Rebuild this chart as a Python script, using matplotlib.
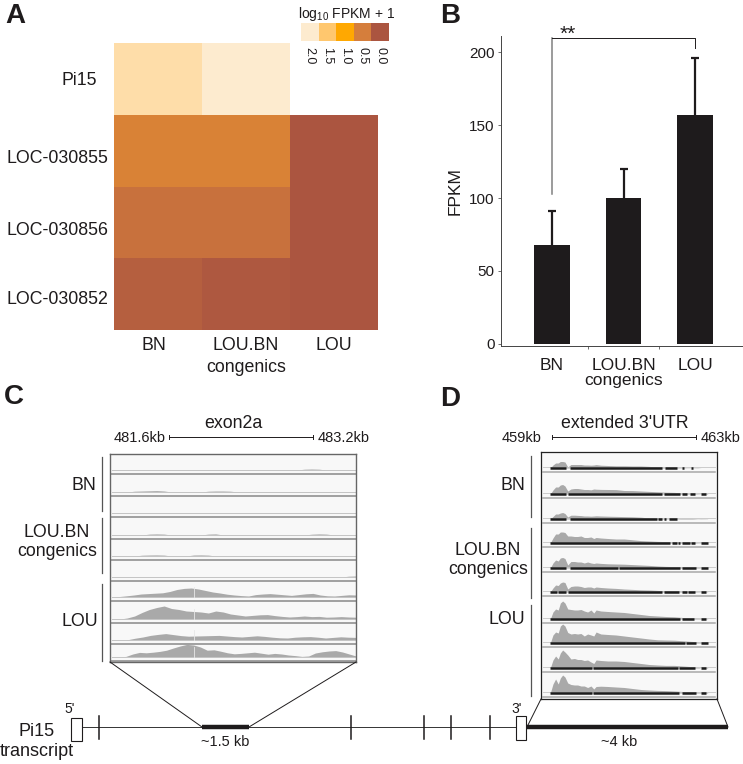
import numpy as np
import matplotlib
matplotlib.use('Agg')
import matplotlib.pyplot as plt
from matplotlib.colors import LinearSegmentedColormap

plt.rcParams['font.family'] = ['Liberation Sans', 'DejaVu Sans']
plt.rcParams['mathtext.default'] = 'regular'
plt.rcParams['mathtext.fontset'] = 'custom'
plt.rcParams['mathtext.rm'] = 'Liberation Sans'

W, H = 743, 764
DARK = '#1e1b1c'

# panel A
genes = ['Pi15', 'LOC-030855', 'LOC-030856', 'LOC-030852']
strains = ['BN', 'LOU.BN\ncongenics', 'LOU']
log_fpkm = [[1.8, 2.0, np.nan],
            [0.55, 0.55, 0.0],
            [0.35, 0.35, 0.0],
            [0.12, 0.04, 0.0]]
legend_ticks = [2.0, 1.5, 1.0, 0.5, 0.0]
legend_colors = ['#ab5540', '#d57e3c', '#ffa800', '#ffc76d', '#fdebcf']

# panel B
fpkm = [68, 100, 157]
fpkm_err = [23, 20, 39]

# panels C and D, coverage per track (px high), left to right
exon_cov = [
    [0, 0, 0, 0, 0, 0, 0, 0, 0, 0, 0, 0, 0, 0, 0, 0, 0, 0, 0, 0, 0, 0, 0, 0, 0, 0, 0.8, 1, 0.8, 0, 0, 0, 0, 0],
    [0, 0, 0, 0.8, 1, 1.2, 1.4, 1, 0, 0, 0, 0, 0, 0.8, 1, 1, 0.8, 0, 0, 0, 0, 0, 0, 0, 0, 0, 0, 0, 0, 0, 0, 0, 0, 0],
    [0] * 34,
    [0, 0, 0, 0, 0, 0.9, 1.1, 0.9, 0, 0, 0, 0, 0, 0.9, 1.1, 0, 0, 0, 0, 0, 0, 0, 0, 0, 0, 0, 0, 0.8, 1.1, 0.9, 0, 0, 0, 0],
    [0, 0, 0, 0, 0.8, 1, 1.1, 0.9, 0, 0, 0, 1, 1.1, 0.9, 0, 0, 0, 0, 0, 0, 0, 0, 0, 0, 0, 0, 0, 0, 0, 0, 0, 0, 0, 0],
    [0, 0, 0, 0, 0, 0, 0, 0, 0, 0, 0, 0, 0, 0, 0, 0, 0, 0, 0, 0, 0, 0, 0, 0, 0, 0, 0, 0, 0, 0, 0, 0, 0.8, 1],
    [0, 0.5, 1.2, 2, 3, 3.4, 3.8, 4.2, 5.5, 7.5, 8.6, 9, 8, 6.5, 5, 4, 2.8, 2, 1.4, 1, 2.4, 3, 3.4, 2.8, 2.2, 1.6, 2.4, 3.2, 3.6, 2, 1.2, 1, 1.6, 2.2, 2],
    [0, 0, 1, 3, 6.5, 9.5, 11.5, 13, 10.5, 9.5, 8, 7.5, 7, 6, 8, 7, 5, 4, 3, 3.6, 4.2, 4.4, 3.4, 2.6, 2, 2.4, 3, 2.4, 2.6, 1.8, 2, 2.4, 2, 1.8],
    [0, 0, 0.3, 1.8, 3, 4.6, 5.6, 6.4, 5.4, 4.4, 3.8, 4, 4.2, 4.4, 4.6, 4, 3.4, 3, 3.6, 4.2, 3.6, 2.8, 2.2, 2, 2.8, 3.2, 3.4, 2.8, 2, 2.6, 3.2, 2.8, 2.6],
    [0, 0, 0.6, 3, 4.6, 4.2, 4.8, 5.6, 6.8, 9, 11, 12.6, 12, 10, 6.8, 7.2, 5.8, 4.2, 3.2, 3.6, 4.2, 4.8, 3.8, 2.8, 3.6, 3, 2, 1.4, 0.6, 1, 4, 5.2, 6, 6.4, 5, 3, 1],
]
# x stations for the D coverage values, % of the box width
utr_pos = [5.3, 6.8, 8.3, 9.8, 11, 12.3, 13.6, 15.2, 17, 19, 20.8, 22.7, 24.6, 26.5, 28.4, 30,
           31.3, 34, 38, 42.6, 47.3, 52, 56.8, 61.5, 66.3, 71, 75.8, 80.5, 85.2, 89, 91, 94.7]
utr_cov = [
    [0, 3, 5, 5, 6.5, 6.5, 6, 1, 3.5, 3.5, 3.5, 3.5, 3, 3, 2.8, 3, 3.4, 2.8, 2.5, 2.2, 2.2, 2, 2, 1.6, 1, 0.8, 0.5, 0.3, 0.2, 0.3, 0, 0],
    [0, 4, 7, 7, 9, 9.5, 8, 3, 5, 5.5, 5.5, 5, 4.5, 4.5, 4.2, 5, 4.8, 4.6, 4.5, 4.4, 3.5, 3.4, 3, 2.6, 2.2, 1.8, 1.6, 1, 0.6, 0.4, 0.2, 0.5],
    [0, 2.5, 5, 5, 6, 6.5, 5.5, 2, 3.8, 3.8, 3.6, 3.4, 3, 3, 2.8, 3, 3.2, 3, 2.8, 2.6, 2.4, 2.2, 1.8, 1, 0.6, 0.4, 0.2, 0.6, 0.6, 0.2, 0.3, 0.2],
    [0, 5, 9, 9, 11, 11, 10.5, 7, 7, 6.5, 6.5, 7, 5.5, 5.5, 6, 4.5, 5.5, 5, 4.5, 4, 4, 3.2, 2.4, 2, 1.6, 1.4, 1.2, 0.8, 0.8, 0.4, 0.3, 0.3],
    [0, 5, 8, 7, 10, 10.5, 9.5, 3, 6.5, 6.5, 6, 6, 5, 6, 5, 4.5, 5, 4.6, 4.2, 4, 3.8, 3.4, 3, 2.6, 2, 1.6, 1.4, 1, 1, 0.6, 0.3, 0.4],
    [0, 4, 7, 6.5, 9, 10, 9.5, 3, 5.5, 6, 6, 5.5, 4.5, 5, 5, 4, 5, 4.5, 4, 3.6, 3, 2.6, 2.2, 2, 1.6, 1.2, 1, 0.8, 0.6, 0.4, 0.3, 0.3],
    [0, 7, 10, 9, 16, 18, 16, 10, 9.5, 9, 9, 9.5, 8, 7, 9, 6, 9, 8, 7.5, 7, 6.5, 5.5, 4.5, 3.5, 3, 2.5, 2.2, 1.5, 1, 0.8, 0.3, 0.3],
    [0, 8, 11, 10, 17, 19, 17, 10.5, 9, 9.5, 9, 9.5, 7, 9, 8, 7, 11, 9, 8.5, 8, 7, 6, 5, 4, 3.2, 3, 2.8, 2.2, 1.6, 1.2, 0.4, 1.2],
    [0, 8, 12, 9, 15, 18, 16, 13, 9, 9.5, 8.5, 8.5, 7.5, 8, 6, 4.5, 8, 7.5, 7, 7, 6.5, 5.5, 4.5, 3.5, 3, 2.6, 2.6, 2, 1.4, 0.8, 0, 0.8],
    [0, 9, 14, 9, 15, 18, 16, 10, 8.5, 8, 8, 7, 7, 5.5, 7, 4, 6.5, 6.8, 6.5, 6, 5.5, 4.5, 3.5, 3, 2.6, 2.4, 2, 1.5, 1, 0.8, 0.4, 0.8],
]
# mapped read stretches under the D tracks, in % of the box width
utr_reads = [
    [(5.3, 14.3), (16.2, 68.9), (70.2, 77), (80, 81.1), (85.5, 86.4)],
    [(5.3, 14.3), (15.5, 68.9), (69.8, 78.9), (80, 83), (84.5, 87.4), (91, 94)],
    [(5.3, 14.3), (16.2, 65.7), (66.6, 68.5), (69.8, 71.3), (72.8, 77)],
    [(5.3, 73.2), (74.2, 77), (78, 78.9), (80, 84.5), (85.5, 87.4), (91, 95)],
    [(5.3, 14.3), (16.2, 44), (44.3, 78.9), (80, 88.3), (91, 95)],
    [(5.3, 9), (9.5, 14.3), (15.5, 68.5), (69.8, 78.5), (80, 82.8), (83.7, 87.4), (91, 93.6)],
    [(5.3, 78.9), (80, 86.8), (91, 93.6)],
    [(5.3, 81.7), (82.3, 88.3), (91, 95)],
    [(5.3, 28.9), (29.4, 78), (78.5, 87.4), (91, 94)],
    [(5.3, 29), (29.5, 78.5), (80, 88), (91, 94)],
]
exon_bottoms = [475, 497, 518, 540, 561, 582, 602, 624, 645, 662]
utr_bottoms = [473, 499, 524, 548, 573, 597, 624, 648, 673, 698]

# transcript model, px along the figure
small_exons = [99, 351, 424, 451, 490]


def px_axes(x0, y0, x1, y1):
    return fig.add_axes([x0 / W, 1 - y1 / H, (x1 - x0) / W, (y1 - y0) / H])


def label(x, y, s, size=12.8, ha='center', va='center', **kw):
    bg.text(x, y, s, fontsize=size, ha=ha, va=va, color=DARK, **kw)


fig = plt.figure(figsize=(W / 100, H / 100), dpi=100)

# figure-wide layer for annotation, in pixels
bg = fig.add_axes([0, 0, 1, 1])
bg.set_xlim(0, W)
bg.set_ylim(H, 0)
bg.axis('off')
bg.set_zorder(5)
bg.patch.set_alpha(0)

for x, y, s in [(15, 16, 'A'), (450, 16, 'B'), (14, 397, 'C'), (450, 399, 'D')]:
    label(x, y, s, size=20, fontweight='bold')

# A: heatmap
cmap = LinearSegmentedColormap.from_list('fpkm', legend_colors)
ax = px_axes(114, 43, 378, 330)
ax.pcolormesh(np.arange(4), np.arange(5), np.array(log_fpkm), cmap=cmap, vmin=0, vmax=2)
ax.set_ylim(4, 0)
ax.set_xticks([0.45, 1.5, 2.5], strains, fontsize=12.8, color=DARK, va='top', linespacing=1.4)
ax.set_yticks([0.5, 1.58, 2.58, 3.55], genes, fontsize=12.8, color=DARK)
ax.tick_params(length=0, pad=4)
ax.tick_params(axis='x', pad=5)
ax.yaxis.get_major_ticks()[0].set_pad(12)
for s in ax.spines.values():
    s.set_visible(False)

# A: colour key
key = px_axes(301, 23, 389, 41)
key.pcolormesh(np.arange(6), [0, 1], [legend_ticks], cmap=cmap, vmin=0, vmax=2, edgecolors='none')
key.set_xticks(np.arange(5) + 0.5, [f'{t:.1f}' for t in legend_ticks], rotation=270, fontsize=9, color=DARK)
key.set_yticks([])
key.tick_params(length=0, pad=4)
for s in key.spines.values():
    s.set_visible(False)
label(347, 14, r'log$_{10}$ FPKM + 1', size=10)

# B: bars
ax = px_axes(501, 36, 743, 346)
x = [1, 2, 3]
ax.bar(x, fpkm, width=0.5, color=DARK)
_, caps, _ = ax.errorbar(x, fpkm, yerr=[[0, 0, 0], fpkm_err], fmt='none', ecolor=DARK,
                         elinewidth=1.6, capsize=2.9, capthick=1.6)
caps[0].set_visible(False)
ax.set_xlim(0.287, 3.67)
ax.set_ylim(-1.4, 211)
ax.set_yticks([0, 50, 100, 150, 200])
ax.set_xticks(x, strains, fontsize=12.5, color=DARK, linespacing=0.95)
ax.set_xticks([1.5, 2.5, 3.67], minor=True)
ax.tick_params(axis='x', which='major', length=0, pad=9)
ax.tick_params(axis='x', which='minor', length=2.5, width=0.6, color='#555555')
ax.tick_params(axis='y', length=2.5, width=0.6, color='#555555', labelsize=11, labelcolor=DARK, pad=2)
ax.set_ylabel('FPKM', fontsize=12.5, color=DARK, labelpad=5)
ax.spines[['top', 'right']].set_visible(False)
for s in ['left', 'bottom']:
    ax.spines[s].set_linewidth(0.7)
    ax.spines[s].set_color('#444444')
ax.plot([1, 1], [103, 209.5], color='#808080', lw=1.1, clip_on=False)
ax.plot([1, 3, 3], [209.5, 209.5, 203], color=DARK, lw=0.7, clip_on=False)
ax.text(1.22, 212, '**', fontsize=15, ha='center', va='center', color=DARK, clip_on=False)

# C: exon2a coverage
ax = px_axes(110, 454, 356, 662)
ax.set_facecolor('#f8f8f8')
ax.set_xlim(0, 100)
ax.set_ylim(662, 454)
ax.set_xticks([])
ax.set_yticks([])
for s in ax.spines.values():
    s.set_color('#666666')
    s.set_linewidth(1)
for i, (bottom, cov) in enumerate(zip(exon_bottoms, exon_cov)):
    base = bottom - 5
    pos = np.linspace(1, 100, len(cov))
    ax.fill_between(pos, base, base - np.array(cov), color='#a9a9a9', lw=0)
    ax.plot([1, 100], [base, base], color='#c4c4c4', lw=0.7)
    ax.plot([1, 100], [bottom - 1, bottom - 1], color='#a0a0a0', lw=1.4)
    if i >= 6:
        ax.plot([34.3, 34.3], [base - 10, base], color='#e8e8e8', lw=0.6)

# D: 3'UTR coverage
ax = px_axes(541, 452, 717, 699)
ax.set_facecolor('#f8f8f8')
ax.set_xlim(0, 100)
ax.set_ylim(699, 452)
ax.set_xticks([])
ax.set_yticks([])
for s in ax.spines.values():
    s.set_color('#222222')
    s.set_linewidth(0.9)
for bottom, cov, reads in zip(utr_bottoms, utr_cov, utr_reads):
    base = bottom - 5
    ax.fill_between(utr_pos, base, base - np.array(cov), color='#a9a9a9', lw=0)
    ax.plot([1, 99], [base - 1, base - 1], color='#c4c4c4', lw=0.6, zorder=1)
    ax.plot([1, 99], [bottom - 1, bottom - 1], color='#a8a8a8', lw=1.1)
    for r0, r1 in reads:
        ax.plot([r0, r1], [base, base], color='#1c1c1c', lw=1.8, solid_capstyle='butt')

# group labels and range bars
for x0, y0, y1 in [(102, 457, 511), (102, 518, 573), (102, 584, 661),
                   (531, 456, 517), (531, 528, 598), (531, 605, 696)]:
    bg.plot([x0, x0], [y0, y1], color='#555555', lw=0.9)
label(96, 485, 'BN', ha='right')
label(57, 542, 'LOU.BN\ncongenics', linespacing=1.15)
label(98, 621, 'LOU', ha='right')
label(525, 485, 'BN', ha='right')
label(488, 560, 'LOU.BN\ncongenics', linespacing=1.1)
label(525, 620, 'LOU', ha='right')

label(233, 423, 'exon2a')
label(625, 424, "extended 3'UTR")
label(139.5, 438, '481.6kb', size=10.5)
label(344, 438, '483.2kb', size=10.5)
label(522, 438, '459kb', size=10.5)
label(721, 438, '463kb', size=10.5)
for x0, x1, yy in [(169, 313, 437), (552, 696, 437)]:
    bg.plot([x0, x1], [yy, yy], color=DARK, lw=0.7)
    bg.plot([x0, x0], [yy - 2, yy + 2], color=DARK, lw=0.7)
    bg.plot([x1, x1], [yy - 2, yy + 2], color=DARK, lw=0.7)

# transcript model
bg.plot([82, 516], [727, 727], color='#333333', lw=0.7)
bg.plot([202, 249], [727, 727], color=DARK, lw=3.2, solid_capstyle='butt')
bg.plot([527, 728], [727, 727], color=DARK, lw=3.2, solid_capstyle='butt')
for ex in small_exons:
    bg.plot([ex, ex], [716, 739], color=DARK, lw=1.1)
for x0, y0, x1, y1 in [(71, 718, 82, 741), (516, 716, 526, 740)]:
    bg.add_patch(plt.Rectangle((x0, y0), x1 - x0, y1 - y0, fc='white', ec=DARK, lw=0.8, zorder=4))
bg.plot([110, 202], [662, 727], color=DARK, lw=0.7)
bg.plot([356, 249], [662, 727], color=DARK, lw=0.7)
bg.plot([541, 527], [699, 727], color=DARK, lw=0.7)
bg.plot([717, 728], [699, 727], color=DARK, lw=0.7)
label(37, 732, 'Pi15', size=13)
label(37, 752, 'transcript', size=13)
label(70, 709, "5'", size=10)
label(517, 709, "3'", size=10)
label(225, 742, '~1.5 kb', size=10.5)
label(619, 742, '~4 kb', size=10.5)

fig.savefig('out.png', dpi=100)
